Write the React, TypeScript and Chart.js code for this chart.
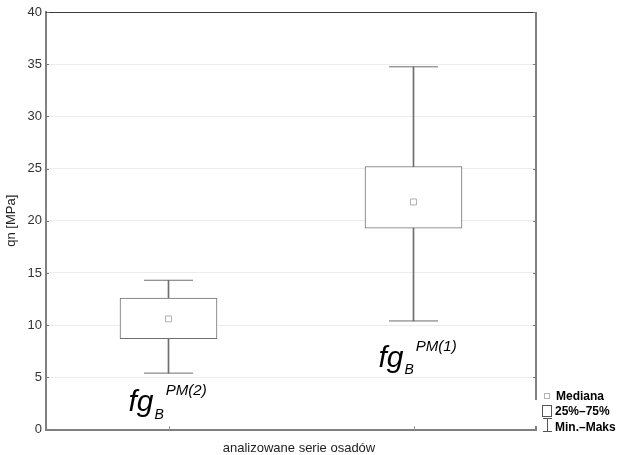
import React, { useEffect, useRef } from "react";
import { Chart, registerables } from "chart.js";

Chart.register(...registerables);

// ---- data ----
const categories = ["fgB PM(2)", "fgB PM(1)"];
const minValues = [5.4, 10.4];
const q1Values = [8.7, 19.3];
const medianValues = [10.6, 21.8];
const q3Values = [12.6, 25.2];
const maxValues = [14.3, 34.75];
const labelBase = ["fg", "fg"];
const labelSub = ["B", "B"];
const labelSup = ["PM(2)", "PM(1)"];
const legendTexts = ["Mediana", "25%–75%", "Min.–Maks"];
const yTitle = "qn [MPa]";
const xTitle = "analizowane serie osadów";

// annotation anchors (value on y axis, pixel offset from category centre)
const labelAnchorValue = [1.77, 6.0];
const labelAnchorDx = [-40, -35];

const FONT = "Arial, 'Liberation Sans', sans-serif";
const LINE = "#6e6e6e";

const framePlugin = {
  id: "frame",
  afterDraw(chart: any) {
    const { ctx, chartArea, scales } = chart;
    const { left, right, top, bottom } = chartArea;
    const y = scales.y;
    const x = scales.x;
    ctx.save();
    // top border
    ctx.strokeStyle = "#3c3c3c";
    ctx.lineWidth = 1;
    ctx.beginPath();
    ctx.moveTo(left, top + 0.5);
    ctx.lineTo(right + 1, top + 0.5);
    ctx.stroke();
    // right border
    ctx.strokeStyle = "#808080";
    ctx.lineWidth = 2;
    ctx.beginPath();
    ctx.moveTo(right, top);
    ctx.lineTo(right, bottom + 1);
    ctx.stroke();
    // inward tick marks
    ctx.strokeStyle = "#777";
    ctx.lineWidth = 1;
    y.ticks.forEach((_t: any, i: number) => {
      const py = Math.round(y.getPixelForTick(i)) + 0.5;
      ctx.beginPath();
      ctx.moveTo(left + 1, py);
      ctx.lineTo(left + 3, py);
      ctx.moveTo(right - 3, py);
      ctx.lineTo(right - 1, py);
      ctx.stroke();
    });
    categories.forEach((_c, i) => {
      const px = Math.round(x.getPixelForValue(i)) + 0.5;
      ctx.beginPath();
      ctx.moveTo(px, bottom - 1);
      ctx.lineTo(px, bottom - 3);
      ctx.stroke();
    });

    // axis title x
    ctx.fillStyle = "#222";
    ctx.font = `13px ${FONT}`;
    ctx.textAlign = "center";
    ctx.textBaseline = "middle";
    ctx.fillText(xTitle, 299, 448);

    // series annotations
    ctx.fillStyle = "#000";
    ctx.textAlign = "left";
    ctx.textBaseline = "alphabetic";
    categories.forEach((_c, i) => {
      const bx = x.getPixelForValue(i) + labelAnchorDx[i];
      const by = y.getPixelForValue(labelAnchorValue[i]);
      ctx.font = `italic 30px ${FONT}`;
      ctx.fillText(labelBase[i], bx, by);
      const w = ctx.measureText(labelBase[i]).width;
      ctx.font = `italic 14px ${FONT}`;
      ctx.fillText(labelSub[i], bx + w + 1, by + 7.5);
      const ws = ctx.measureText(labelSub[i]).width;
      ctx.font = `italic 15px ${FONT}`;
      ctx.fillText(labelSup[i], bx + w + ws + 3, by - 16);
    });

    // legend (white patch over the frame corner)
    ctx.fillStyle = "#fff";
    ctx.fillRect(535, 400, 84, 26);
    // median symbol
    ctx.strokeStyle = "#b5b5b5";
    ctx.lineWidth = 1;
    ctx.strokeRect(544.5, 393.5, 5, 5);
    // box symbol
    ctx.strokeStyle = "#555";
    ctx.strokeRect(542.5, 405.5, 9, 11);
    // whisker symbol
    ctx.beginPath();
    ctx.moveTo(543, 418.5);
    ctx.lineTo(552, 418.5);
    ctx.moveTo(547.5, 418.5);
    ctx.lineTo(547.5, 431.5);
    ctx.moveTo(543, 431.5);
    ctx.lineTo(552, 431.5);
    ctx.stroke();
    ctx.fillStyle = "#000";
    ctx.font = `bold 12px ${FONT}`;
    ctx.textBaseline = "middle";
    ctx.fillText(legendTexts[0], 556, 396.5);
    ctx.fillText(legendTexts[1], 555, 411.5);
    ctx.fillText(legendTexts[2], 555, 428);
    ctx.restore();
  },
};

export default function App() {
  const ref = useRef<HTMLCanvasElement | null>(null);

  useEffect(() => {
    if (!ref.current) return;
    const chart = new Chart(ref.current, {
      type: "bar",
      data: {
        labels: categories,
        datasets: [
          {
            type: "line",
            label: "Mediana",
            data: medianValues,
            showLine: false,
            pointStyle: "rect",
            pointRadius: 4.2,
            pointHoverRadius: 4.2,
            pointBorderColor: "#b0b0b0",
            pointBackgroundColor: "#fff",
            pointBorderWidth: 1,
            order: 0,
          } as any,
          {
            type: "bar",
            label: "25%-75%",
            data: categories.map((_c, i) => [q1Values[i], q3Values[i]]),
            backgroundColor: "#fff",
            borderColor: LINE,
            borderWidth: 1,
            borderSkipped: false,
            barThickness: 97,
            grouped: false,
            order: 1,
          } as any,
          {
            type: "line",
            label: "Maks",
            data: maxValues,
            showLine: false,
            pointStyle: "line",
            pointRadius: 24.5,
            pointHoverRadius: 24.5,
            pointBorderColor: LINE,
            pointBorderWidth: 1,
            order: 2,
          } as any,
          {
            type: "line",
            label: "Min",
            data: minValues,
            showLine: false,
            pointStyle: "line",
            pointRadius: 24.5,
            pointHoverRadius: 24.5,
            pointBorderColor: LINE,
            pointBorderWidth: 1,
            order: 2,
          } as any,
          {
            type: "bar",
            label: "Min.-Maks",
            data: categories.map((_c, i) => [minValues[i], maxValues[i]]),
            backgroundColor: LINE,
            borderWidth: 0,
            barThickness: 1,
            grouped: false,
            order: 3,
          } as any,
        ],
      },
      options: {
        responsive: false,
        animation: false,
        events: [],
        layout: { autoPadding: false, padding: { left: 0, top: 12, right: 83, bottom: 0 } },
        plugins: {
          legend: { display: false },
          tooltip: { enabled: false },
          title: { display: false },
        },
        scales: {
          x: {
            type: "category",
            offset: true,
            grid: { display: false, drawTicks: false },
            border: { display: true, color: "#808080", width: 2 },
            ticks: { display: false },
            afterFit: (scale: any) => {
              scale.height = 25.5;
            },
          },
          y: {
            min: 0,
            max: 40,
            ticks: {
              stepSize: 5,
              padding: 4,
              color: "#333",
              font: { family: FONT, size: 13 },
            },
            grid: { color: "#ececec", lineWidth: 1, drawTicks: false },
            border: { display: true, color: "#808080", width: 2 },
            title: {
              display: true,
              text: yTitle,
              color: "#222",
              font: { family: FONT, size: 13 },
              padding: { top: 4, bottom: 0 },
            },
            afterFit: (scale: any) => {
              scale.width = 46;
            },
          },
        },
      },
      plugins: [framePlugin],
    });
    return () => chart.destroy();
  }, []);

  return (
    <div style={{ position: "absolute", left: 0, top: 0, width: 619, height: 455, background: "#fff" }}>
      <canvas ref={ref} width={619} height={455} style={{ display: "block" }} />
    </div>
  );
}
